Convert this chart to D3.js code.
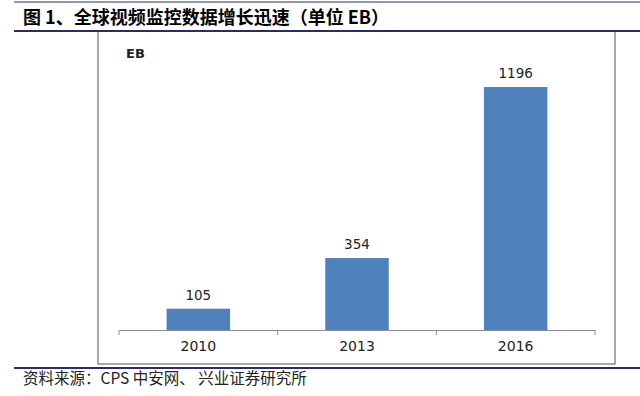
<!DOCTYPE html>
<html>
<head>
<meta charset="utf-8">
<script src="https://cdn.jsdelivr.net/npm/d3@7"></script>
<style>
  body { margin: 0; background: #fff; }
  svg { display: block; }
</style>
</head>
<body>
<div id="chart"></div>
<script>
const years = ['2010', '2013', '2016'];
const values = [105, 354, 1196];
const titleText = '图 1、全球视频监控数据增长迅速（单位 EB）';
const sourceText = '资料来源：CPS 中安网、 兴业证券研究所';
const unitText = 'EB';

const width = 640;
const height = 396;

const svg = d3
  .select('#chart')
  .append('svg')
  .attr('width', width)
  .attr('height', height);

// header / footer rules
svg.append('line')
  .attr('x1', 14).attr('x2', 640).attr('y1', 2).attr('y2', 2)
  .attr('stroke', '#2a2a6e').attr('stroke-width', 1);
svg.append('text')
  .attr('x', 23)
  .attr('y', 24)
  .style('font-family', '"Noto Sans CJK SC"')
  .style('font-weight', 'bold')
  .style('font-size', '18px')
  .attr('fill', '#000')
  .text(titleText);

// chart frame
svg.append('rect')
  .attr('x', 98).attr('y', 31).attr('width', 517).attr('height', 333)
  .attr('fill', '#fff').attr('stroke', '#8c8c8c').attr('stroke-width', 1.5);

svg.append('line')
  .attr('x1', 14).attr('x2', 640).attr('y1', 31).attr('y2', 31)
  .attr('stroke', '#2a2a6e').attr('stroke-width', 2);
svg.append('line')
  .attr('x1', 14).attr('x2', 640).attr('y1', 368).attr('y2', 368)
  .attr('stroke', '#2a2a6e').attr('stroke-width', 2);

svg.append('text')
  .attr('x', 23)
  .attr('y', 384)
  .style('font-family', '"Noto Sans CJK SC"')
  .style('font-size', '15.5px')
  .attr('fill', '#222')
  .text(sourceText);

const xScale = d3.scaleBand()
  .domain(years)
  .range([119, 595])
  .paddingInner(0.6)
  .paddingOuter(0.3);
const yScale = d3.scaleLinear().domain([0, 1400]).range([330, 45.6]);

// x axis
const xAxis = d3.axisBottom(xScale).tickSize(0).tickPadding(11);
const gx = svg.append('g')
  .attr('class', 'x-axis')
  .attr('transform', 'translate(0, 330)')
  .call(xAxis);
gx.select('.domain').attr('stroke', '#8c8c8c').attr('stroke-width', 1);
gx.selectAll('text')
  .style('font-family', '"DejaVu Sans", sans-serif')
  .style('font-size', '14px')
  .attr('fill', '#222');

// boundary ticks between categories
const tickPos = d3.range(years.length + 1).map((i) => 119 + i * (476 / years.length));
svg.selectAll('line.cat-tick')
  .data(tickPos)
  .join('line')
  .attr('class', 'cat-tick')
  .attr('x1', (d) => d).attr('x2', (d) => d)
  .attr('y1', 330).attr('y2', 335)
  .attr('stroke', '#8c8c8c');

// bars
svg.selectAll('rect.bar')
  .data(values)
  .join('rect')
  .attr('class', 'bar')
  .attr('x', (d, i) => xScale(years[i]))
  .attr('y', (d) => yScale(d))
  .attr('width', xScale.bandwidth())
  .attr('height', (d) => yScale(0) - yScale(d))
  .attr('fill', '#4f81bd');

// value labels
svg.selectAll('text.val')
  .data(values)
  .join('text')
  .attr('class', 'val')
  .attr('x', (d, i) => xScale(years[i]) + xScale.bandwidth() / 2)
  .attr('y', (d) => yScale(d) - 9)
  .attr('text-anchor', 'middle')
  .style('font-family', '"DejaVu Sans", sans-serif')
  .style('font-size', '13.5px')
  .attr('fill', '#222')
  .text((d) => d);

svg.append('text')
  .attr('x', 126)
  .attr('y', 58)
  .style('font-family', '"DejaVu Sans", sans-serif')
  .style('font-size', '13px')
  .style('font-weight', 'bold')
  .attr('fill', '#222')
  .text(unitText);
</script>
</body>
</html>
